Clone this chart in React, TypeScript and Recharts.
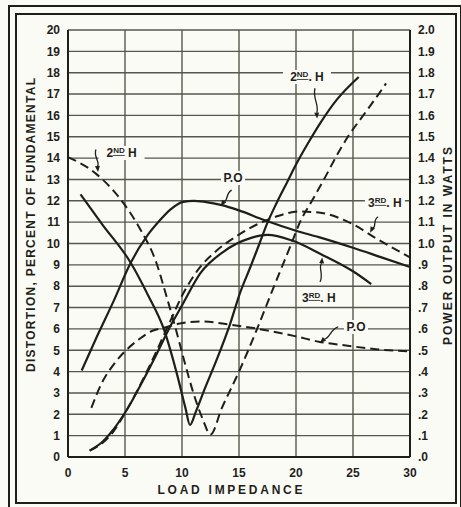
import { LineChart, Line, XAxis, YAxis, CartesianGrid, ReferenceLine, ReferenceDot } from 'recharts';

const FONT = '"Liberation Sans", "DejaVu Sans", Arial, sans-serif';
const INK = '#1f1f1a';
const GRID = '#57574d';
const PAPER = '#fbfbf6';

// axis ticks
const xTicks = [0, 5, 10, 15, 20, 25, 30];
const distTicks = [0, 1, 2, 3, 4, 5, 6, 7, 8, 9, 10, 11, 12, 13, 14, 15, 16, 17, 18, 19, 20];
const wattTicks = [0, 0.1, 0.2, 0.3, 0.4, 0.5, 0.6, 0.7, 0.8, 0.9, 1.0, 1.1, 1.2, 1.3, 1.4, 1.5, 1.6, 1.7, 1.8, 1.9, 2.0];

// 2nd harmonic, solid (percent)
const h2SolidX = [1.1, 3, 5.5, 7, 8.4, 9.6, 10.3, 10.7, 11.2, 12, 13, 14.2, 15.1, 16, 16.8, 17.4, 18.3, 19.2, 20, 21, 22.2, 23.6, 25.5];
const h2SolidY = [12.3, 10.9, 9.1, 7.6, 6.0, 3.8, 2.3, 1.5, 2.1, 3.2, 4.5, 6.2, 7.7, 8.9, 10.0, 10.85, 11.9, 12.85, 13.7, 14.65, 15.7, 16.75, 17.8];

// 2nd harmonic, dashed (percent)
const h2DashX = [0, 2.5, 4.85, 6.3, 7.75, 8.6, 9.4, 10.2, 11, 11.8, 12.5, 13.5, 15, 16.55, 18, 19.6, 20.35, 21.4, 22.45, 23.45, 24.55, 25.9, 27.25, 27.9];
const h2DashY = [14.05, 13.25, 11.9, 10.7, 9.1, 7.6, 6.1, 4.5, 3.0, 1.8, 1.05, 2.3, 4.0, 5.95, 7.9, 10, 11, 12, 13, 14, 15, 16, 17, 17.5];

// 3rd harmonic, solid (percent)
const h3SolidX = [1.9, 3, 3.7, 5.15, 6.45, 7.8, 8.95, 10, 11.6, 13.6, 16, 17.5, 19.6, 22.2, 25, 26.6];
const h3SolidY = [0.3, 0.7, 1.1, 2.2, 3.45, 4.85, 6.1, 7.1, 8.6, 9.6, 10.25, 10.4, 10.15, 9.5, 8.7, 8.1];

// 3rd harmonic, dashed (percent)
const h3DashX = [1.9, 3, 3.7, 5.15, 6.45, 7.8, 9, 10, 11.6, 13, 14.8, 16.8, 18.5, 20.2, 22, 24, 25, 27, 30];
const h3DashY = [0.3, 0.65, 1.0, 2.2, 3.5, 5.0, 6.4, 7.55, 8.9, 9.65, 10.35, 10.95, 11.3, 11.5, 11.45, 11.15, 10.9, 10.25, 9.35];

// power output, solid (watts)
const poSolidX = [1.2, 2.5, 4, 5.5, 7, 8, 9, 10.1, 11, 12, 13.5, 15, 17.2, 20, 22, 25, 27.5, 30];
const poSolidY = [0.405, 0.56, 0.73, 0.91, 1.04, 1.105, 1.16, 1.195, 1.2, 1.195, 1.18, 1.155, 1.11, 1.06, 1.03, 0.98, 0.935, 0.89];

// power output, dashed (watts)
const poDashX = [2.05, 2.95, 4.1, 5, 6.2, 7.35, 8.4, 9.8, 11.6, 14.2, 16.7, 20, 22, 24.7, 27, 30];
const poDashY = [0.23, 0.345, 0.44, 0.495, 0.55, 0.59, 0.605, 0.625, 0.635, 0.62, 0.6, 0.565, 0.54, 0.52, 0.505, 0.495];

const pts = (xs: number[], ys: number[]) => xs.map((x, i) => ({ x, y: ys[i] }));

const fmtWatts = (v: number) => v.toFixed(1).replace(/^0/, '');

// little hand-drawn leader with an arrow head
function Squiggle(p: any) {
  const { x1, y1, x2, y2 } = p;
  const dx = x2 - x1;
  const dy = y2 - y1;
  const len = Math.hypot(dx, dy) || 1;
  const ux = dx / len;
  const uy = dy / len;
  const nx = -uy;
  const ny = ux;
  const w = 3.5;
  const c1x = x1 + dx * 0.3 + nx * w;
  const c1y = y1 + dy * 0.3 + ny * w;
  const c2x = x1 + dx * 0.6 - nx * w;
  const c2y = y1 + dy * 0.6 - ny * w;
  const bx = x2 - ux * 6;
  const by = y2 - uy * 6;
  return (
    <g>
      <path d={`M${x1},${y1} C${c1x},${c1y} ${c2x},${c2y} ${bx},${by}`} fill="none" stroke={INK} strokeWidth={1.3} />
      <path d={`M${x2},${y2} L${bx + nx * 2.5},${by + ny * 2.5} L${bx - nx * 2.5},${by - ny * 2.5} Z`} fill={INK} />
    </g>
  );
}

function Tag({ cx, cy, lead, sup, tail, w }: any) {
  return (
    <g>
      <rect x={cx - w / 2} y={cy - 7} width={w} height={14} fill={PAPER} />
      <text x={cx} y={cy} textAnchor="middle" dominantBaseline="central" fontFamily={FONT} fontWeight={700} fontSize={12} fill={INK}>
        {lead}
        {sup ? <tspan fontSize={8} dy={-3} textDecoration="underline">{sup}</tspan> : null}
        {tail ? <tspan dy={sup ? 3 : 0}>{tail}</tspan> : null}
      </text>
    </g>
  );
}

const tickStyle = { fill: INK, fontSize: 12, fontWeight: 700, fontFamily: FONT };

export default function App() {
  return (
    <div style={{ position: 'absolute', left: 0, top: 0, width: 461, height: 507, background: PAPER, overflow: 'hidden' }}>
      <div style={{ position: 'absolute', left: 8, top: 5, width: 450, height: 520, border: `2px solid ${INK}` }} />
      <div style={{ position: 'absolute', left: 15, top: 13, width: 438, height: 487, border: `2px solid ${INK}` }} />

      <div style={{ position: 'absolute', left: 0, top: 0 }}>
        <LineChart width={461} height={507} margin={{ top: 30, right: 21, bottom: 20, left: 38 }}>
          <CartesianGrid stroke={GRID} strokeWidth={1.4} />
          <XAxis
            dataKey="x"
            type="number"
            domain={[0, 30]}
            ticks={xTicks}
            interval={0}
            tickLine={false}
            tickMargin={5}
            height={30}
            axisLine={{ stroke: INK, strokeWidth: 2 }}
            tick={tickStyle}
          />
          <YAxis
            type="number"
            domain={[0, 20]}
            ticks={distTicks}
            interval={0}
            width={30}
            tickLine={false}
            tickMargin={2}
            axisLine={{ stroke: INK, strokeWidth: 2 }}
            tick={tickStyle}
          />
          <YAxis
            yAxisId="right"
            orientation="right"
            type="number"
            domain={[0, 2]}
            ticks={wattTicks}
            interval={0}
            width={30}
            tickLine={false}
            tickMargin={2}
            tickFormatter={fmtWatts}
            axisLine={{ stroke: INK, strokeWidth: 2 }}
            tick={{ ...tickStyle, textAnchor: 'start' }}
          />

          <Line data={pts(h2SolidX, h2SolidY)} dataKey="y" type="monotone" stroke={INK} strokeWidth={2.2} dot={false} isAnimationActive={false} />
          <Line data={pts(h2DashX, h2DashY)} dataKey="y" type="monotone" stroke={INK} strokeWidth={2} strokeDasharray="9 5" dot={false} isAnimationActive={false} />
          <Line data={pts(h3SolidX, h3SolidY)} dataKey="y" type="monotone" stroke={INK} strokeWidth={2.2} dot={false} isAnimationActive={false} />
          <Line data={pts(h3DashX, h3DashY)} dataKey="y" type="monotone" stroke={INK} strokeWidth={2} strokeDasharray="9 5" dot={false} isAnimationActive={false} />
          <Line yAxisId="right" data={pts(poSolidX, poSolidY)} dataKey="y" type="monotone" stroke={INK} strokeWidth={2.2} dot={false} isAnimationActive={false} />
          <Line yAxisId="right" data={pts(poDashX, poDashY)} dataKey="y" type="monotone" stroke={INK} strokeWidth={2} strokeDasharray="9 5" dot={false} isAnimationActive={false} />

          <ReferenceLine segment={[{ x: 2.45, y: 14.4 }, { x: 2.63, y: 13.35 }]} shape={Squiggle} />
          <ReferenceLine segment={[{ x: 14.36, y: 12.5 }, { x: 13.4, y: 11.75 }]} shape={Squiggle} />
          <ReferenceLine segment={[{ x: 21.67, y: 17.27 }, { x: 21.85, y: 15.85 }]} shape={Squiggle} />
          <ReferenceLine segment={[{ x: 27.2, y: 11.25 }, { x: 26.5, y: 10.5 }]} shape={Squiggle} />
          <ReferenceLine segment={[{ x: 22.1, y: 8.2 }, { x: 22.3, y: 9.35 }]} shape={Squiggle} />
          <ReferenceLine segment={[{ x: 23.7, y: 6.1 }, { x: 22.1, y: 5.35 }]} shape={Squiggle} />

          <ReferenceDot x={4.7} y={14.24} r={0} shape={(p: any) => <Tag cx={p.cx} cy={p.cy} lead="2" sup="ND" tail=" H" w={46} />} />
          <ReferenceDot x={14.47} y={13.07} r={0} shape={(p: any) => <Tag cx={p.cx} cy={p.cy} lead="P.O" w={24} />} />
          <ReferenceDot x={20.96} y={17.8} r={0} shape={(p: any) => <Tag cx={p.cx} cy={p.cy} lead="2" sup="ND" tail=". H" w={48} />} />
          <ReferenceDot x={27.8} y={11.9} r={0} shape={(p: any) => <Tag cx={p.cx} cy={p.cy} lead="3" sup="RD" tail=". H" w={40} />} />
          <ReferenceDot x={22.0} y={7.45} r={0} shape={(p: any) => <Tag cx={p.cx} cy={p.cy} lead="3" sup="RD" tail=". H" w={40} />} />
          <ReferenceDot x={25.26} y={6.09} r={0} shape={(p: any) => <Tag cx={p.cx} cy={p.cy} lead="P.O" w={24} />} />
        </LineChart>
      </div>

      <svg width={461} height={507} style={{ position: 'absolute', left: 0, top: 0, pointerEvents: 'none' }}>
        <text
          transform="translate(31,225) rotate(-90)"
          textAnchor="middle"
          dominantBaseline="central"
          textLength={294}
          lengthAdjust="spacing"
          fontFamily={FONT}
          fontWeight={700}
          fontSize={12}
          fill={INK}
        >
          DISTORTION, PERCENT OF FUNDAMENTAL
        </text>
        <text
          transform="translate(448,246) rotate(-90)"
          textAnchor="middle"
          dominantBaseline="central"
          textLength={198}
          lengthAdjust="spacing"
          fontFamily={FONT}
          fontWeight={700}
          fontSize={12}
          fill={INK}
        >
          POWER OUTPUT IN WATTS
        </text>
        <text
          x={230}
          y={490}
          textAnchor="middle"
          dominantBaseline="central"
          textLength={145}
          lengthAdjust="spacing"
          fontFamily={FONT}
          fontWeight={700}
          fontSize={12}
          fill={INK}
        >
          LOAD IMPEDANCE
        </text>
      </svg>
    </div>
  );
}
